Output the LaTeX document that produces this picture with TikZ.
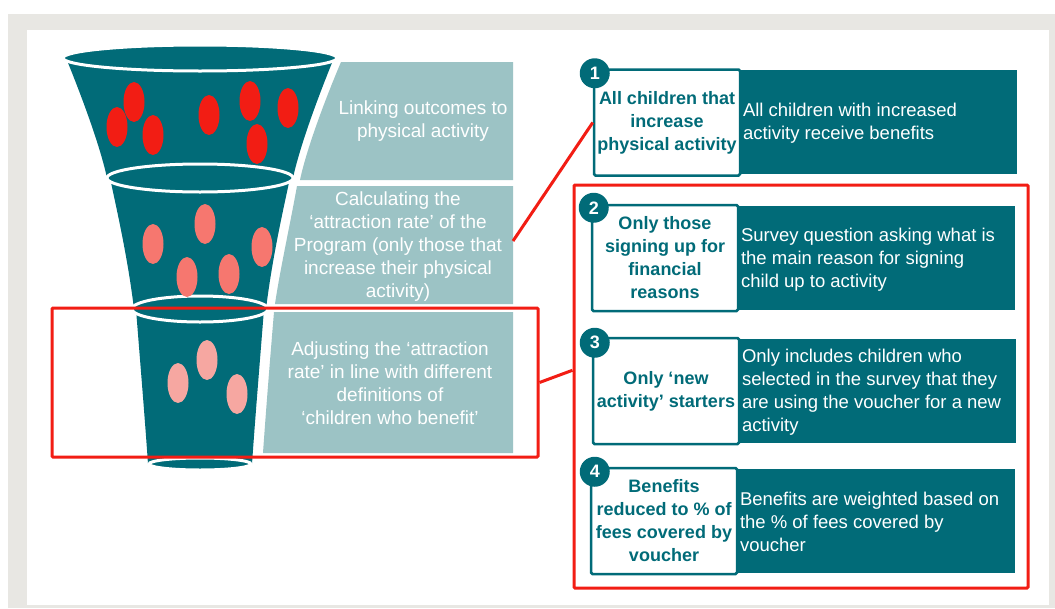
\documentclass[tikz,border=0pt]{standalone}
\usepackage{fontspec}
\setmainfont{Liberation Sans}
\usetikzlibrary{calc}
\definecolor{teal1}{HTML}{016B78}
\definecolor{pale}{HTML}{9CC3C5}
\definecolor{alert}{HTML}{F21D14}
\definecolor{dotA}{HTML}{F21D14}
\definecolor{dotB}{HTML}{F6776F}
\definecolor{dotC}{HTML}{F6A7A1}
\definecolor{frame}{HTML}{E8E7E3}
\begin{document}
\begin{tikzpicture}[x=1pt,y=-1pt,
  paletext/.style={text=white,align=center,inner sep=0pt,font=\fontsize{19}{23}\selectfont},
  wbox/.style={draw=teal1,fill=white,line width=2.5pt,rounded corners=1.5pt,minimum width=146pt,minimum height=106pt,inner sep=0pt,text=teal1,align=center,font=\bfseries\fontsize{18}{23}\selectfont},
  tbox/.style={fill=teal1,minimum height=104pt,inner sep=0pt},
  ttext/.style={text=white,align=left,inner sep=0pt,anchor=west,font=\fontsize{18.5}{23}\selectfont},
  numc/.style={circle,fill=teal1,minimum size=30pt,inner sep=0pt,text=white,font=\bfseries\fontsize{18}{18}\selectfont},
  rim/.style={fill=teal1,draw=white,line width=3pt},
  redframe/.style={draw=alert,line width=3pt,rounded corners=1pt,inner sep=0pt},
  redline/.style={draw=alert,line width=3pt},
  dot/.style={x radius=10.5pt,y radius=20pt}]
\useasboundingbox (0,0) rectangle (1055,608);
% page frame
\fill[frame] (8,14) rectangle (1055,608);
\fill[white] (27,30) rectangle (1049,605);

% pale stage panels beside the funnel
\fill[pale] (341,62) -- (513,62) -- (513,180) -- (300,180) .. controls (307,147) and (327,95) .. (341,62) -- cycle;
\fill[pale] (297,186) -- (513,186) -- (513,304) -- (275,304) .. controls (280,270) and (290,225) .. (297,186) -- cycle;
\fill[pale] (274,312) -- (513,312) -- (513,453) -- (263,453) .. controls (266,410) and (270,360) .. (274,312) -- cycle;
\node[paletext] (lb1) at (423,121) {Linking outcomes to\\physical activity};
\node[paletext] (lb2) at (398,247) {Calculating the\\‘attraction rate’ of the\\Program (only those that\\increase their physical\\activity)};
\node[paletext] (lb3) at (390,383.5) {Adjusting the ‘attraction\\rate’ in line with different\\definitions of\\‘children who benefit’};
\coordinate (b2r) at (513,241);

% funnel bodies
\fill[teal1] (66,58) .. controls (80,92) and (100,145) .. (107,178) -- (293,178) .. controls (300,145) and (320,92) .. (334,58) -- cycle;
\fill[teal1] (110,178) .. controls (118,215) and (128,260) .. (134,309) -- (266,309) .. controls (272,260) and (282,215) .. (290,178) -- cycle;
\fill[teal1] (136,309) .. controls (140,360) and (145,420) .. (148,464) -- (252,464) .. controls (255,420) and (260,360) .. (264,309) -- cycle;
% funnel rims
\filldraw[rim] (200,58) ellipse [x radius=137pt,y radius=13pt];
\filldraw[rim] (200,178) ellipse [x radius=93pt,y radius=14pt];
\filldraw[rim] (200,309) ellipse [x radius=68pt,y radius=13pt];
\filldraw[rim] (200,464) ellipse [x radius=51pt,y radius=6pt];

% children in each stage
\foreach \p in {(117,127),(134,102),(153,135),(209,115),(250,101),(288,108),(257,144)}
  \fill[dotA] \p ellipse [dot];
\foreach \p in {(153,244),(205,224),(262,247),(187,277),(229,274)}
  \fill[dotB] \p ellipse [dot];
\foreach \p in {(178,383),(207,360),(237,394)}
  \fill[dotC] \p ellipse [dot];

% definitions on the right
\node[tbox,minimum width=277pt] (t1) at (878.5,122) {};
\node[wbox] (w1) at (667,122.5) {All children that\\increase\\physical activity};
\node[ttext] (x1) at ($(t1.west)+(3,1.5)$) {All children with increased\\activity receive benefits};
\node[numc] (n1) at ($(w1.north west)+(2,5)$) {1};

\node[tbox,minimum width=277pt] (t2) at (876.5,258) {};
\node[wbox] (w2) at (665,258) {Only those\\signing up for\\financial\\reasons};
\node[ttext] (x2) at ($(t2.west)+(3,2)$) {Survey question asking what is\\the main reason for signing\\child up to activity};
\node[numc] (n2) at ($(w2.north west)+(3,4)$) {2};

\node[tbox,minimum width=277pt] (t3) at (877.5,391) {};
\node[wbox] (w3) at (666,391) {Only ‘new\\activity’ starters};
\node[ttext] (x3) at ($(t3.west)+(3,1)$) {Only includes children who\\selected in the survey that they\\are using the voucher for a new\\activity};
\node[numc] (n3) at ($(w3.north west)+(3,6)$) {3};

\node[tbox,minimum width=278pt] (t4) at (876,521) {};
\node[wbox] (w4) at (664,521) {Benefits\\reduced to \% of\\fees covered by\\voucher};
\node[ttext] (x4) at ($(t4.west)+(3,1)$) {Benefits are weighted based on\\the \% of fees covered by\\voucher};
\node[numc] (n4) at ($(w4.north west)+(5,5)$) {4};

% highlight frames and their links
\node[redframe,minimum width=486pt,minimum height=149pt] (rf1) at (295,382.5) {};
\node[redframe,minimum width=454pt,minimum height=403pt] (rf2) at (801,386.5) {};
\draw[redline] (b2r) -- (w1.west);
\draw[redline] (rf1.east) -- ($(rf2.north west)!0.46!(rf2.south west)$);
\end{tikzpicture}
\end{document}
